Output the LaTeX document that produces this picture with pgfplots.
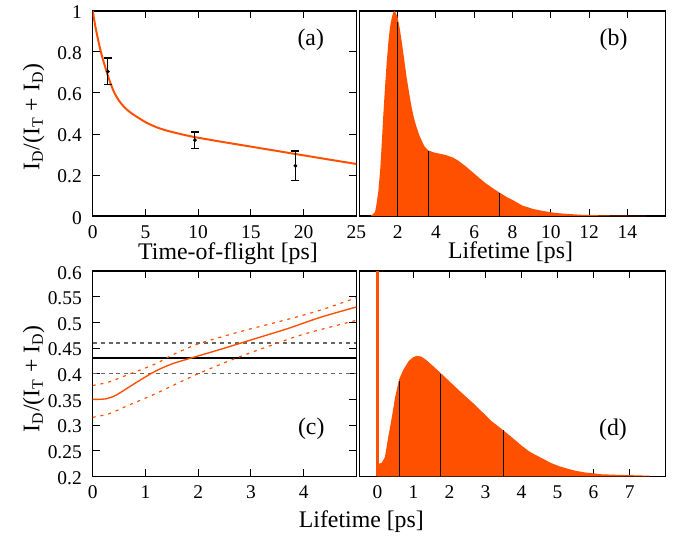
\documentclass[border=0pt]{standalone}
\usepackage{fontspec}
\setmainfont{Liberation Serif}
\usepackage{pgfplots}
\pgfplotsset{compat=1.18}
\definecolor{myor}{RGB}{255,80,0}
\begin{document}
\fontsize{12}{14.4}\selectfont
\pgfplotsset{
  base/.style={
    scale only axis,
    axis line style={line width=0.8pt},
    every tick/.style={black, line width=0.5pt},
    tick align=inside,
    major tick length=3.5pt,
    minor tick length=0pt,
    /pgf/number format/assume math mode=true,
    ticklabel style={font=\fontsize{9.8}{11.8}\selectfont, inner sep=0pt},
    xticklabel style={yshift=-4.5pt},
    yticklabel style={xshift=-5.3pt, yshift=-0.8pt},
    clip=true,
  },
}
\begin{tikzpicture}
% ---------- (a)
\begin{axis}[base,
  at={(43.75pt,163pt)}, anchor=south west,
  width=133pt, height=103.5pt,
  xmin=0, xmax=25, ymin=0, ymax=1,
  xtick={0,5,10,15,20,25}, ytick={0,0.2,0.4,0.6,0.8,1},
]
\addplot[myor, line width=1pt, smooth] coordinates {
(0,1.0) (0.25,0.925) (0.5,0.862) (0.75,0.806) (1.0,0.758) (1.5,0.675) (2.0,0.607)
(2.5,0.562) (3.0,0.531) (3.5,0.508) (4.0,0.49) (5.0,0.458) (6.0,0.434)
(7.0,0.417) (8.0,0.404) (9.0,0.392) (10,0.382) (12,0.364) (14,0.347)
(16,0.330) (18,0.313) (20,0.296) (22,0.279) (25,0.254)};
\addplot[black, only marks, mark=*, mark size=0.6pt, line width=0.6pt,
  error bars/.cd, y dir=both, y explicit,
  error bar style={line width=0.6pt}, error mark options={rotate=90, mark size=2pt, line width=0.6pt}]
  coordinates {
  (1.44,0.705) +- (0,0.065)
  (9.69,0.37) +- (0,0.04)
  (19.22,0.245) +- (0,0.072)};
\node at (rel axis cs:0.827,0.86) {(a)};
\end{axis}
% ---------- (b)
\begin{axis}[base,
  at={(178.25pt,163pt)}, anchor=south west,
  width=154.5pt, height=103.5pt,
  xmin=0, xmax=16, ymin=0, ymax=1,
  xtick={2,4,6,8,10,12,14}, ytick=\empty,
]
\addplot[fill=myor, draw=none] coordinates {
(0.56,0) (0.7,0.008) (0.82,0.02) (0.9,0.06) (1.0,0.127) (1.1,0.24) (1.17,0.353)
(1.25,0.49) (1.34,0.627) (1.43,0.75) (1.52,0.852) (1.6,0.92) (1.69,0.965)
(1.76,0.99) (1.83,1.0) (1.9,0.99) (1.99,0.972) (2.1,0.92) (2.21,0.852)
(2.34,0.765) (2.47,0.675) (2.6,0.6) (2.73,0.53) (2.86,0.475) (2.99,0.433)
(3.12,0.397) (3.25,0.369) (3.4,0.34) (3.6,0.32) (3.9,0.31) (4.2,0.304)
(4.5,0.298) (4.9,0.285) (5.2,0.268) (5.59,0.24) (5.9,0.215) (6.29,0.184)
(6.6,0.16) (6.98,0.135) (7.33,0.114) (7.7,0.093) (8.02,0.078) (8.5,0.052)
(9.1,0.034) (9.6,0.025) (9.96,0.019) (10.4,0.014) (10.83,0.011) (11.3,0.008)
(11.7,0.006) (12.5,0.004) (13.5,0.002) (15.0,0.001) (15.0,0)} \closedcycle;
\addplot[ycomb, black, line width=0.6pt] coordinates {(2.0,0.945) (3.6,0.315) (7.33,0.114)};
\node at (rel axis cs:0.83,0.86) {(b)};
\end{axis}
% ---------- (c)
\begin{axis}[base,
  at={(43.75pt,31.75pt)}, anchor=south west,
  width=133pt, height=103.5pt,
  xmin=0, xmax=5, ymin=0.2, ymax=0.6,
  xtick={0,1,2,3,4}, extra x ticks={5}, extra x tick labels={},
  ytick={0.2,0.25,0.3,0.35,0.4,0.45,0.5,0.55,0.6},
  yticklabels={0.2,0.25,0.3,0.35,0.4,0.45,0.5,0.55,0.6},
]
\addplot[gray!80!black, line width=0.6pt, dash pattern=on 2pt off 2pt] coordinates {(0,0.46) (5,0.46)};
\addplot[gray!80!black, line width=0.6pt, dash pattern=on 2pt off 2pt] coordinates {(0,0.40) (5,0.40)};
\addplot[black, line width=1.1pt] coordinates {(0,0.43) (5,0.43)};
\addplot[myor, line width=0.7pt, smooth] coordinates {
(0,0.350) (0.25,0.351) (0.44,0.358) (0.69,0.374) (0.94,0.390) (1.19,0.405)
(1.5,0.419) (1.88,0.431) (2.44,0.448) (3.07,0.468) (3.70,0.488) (4.32,0.51) (5.0,0.530)};
\addplot[myor, line width=0.6pt, dash pattern=on 1.5pt off 2.5pt, smooth] coordinates {
(0,0.377) (0.31,0.384) (0.69,0.399) (1.19,0.419) (1.5,0.436) (2.0,0.458)
(2.76,0.481) (3.70,0.506) (4.32,0.524) (5.0,0.548)};
\addplot[myor, line width=0.6pt, dash pattern=on 1.5pt off 2.5pt, smooth] coordinates {
(0,0.315) (0.31,0.322) (0.69,0.339) (1.19,0.361) (2.0,0.40) (2.76,0.432)
(3.38,0.455) (4.0,0.477) (5.0,0.504)};
\node at (rel axis cs:0.829,0.234) {(c)};
\end{axis}
% ---------- (d)
\begin{axis}[base,
  at={(178.25pt,31.75pt)}, anchor=south west,
  width=154.5pt, height=103.5pt,
  xmin=-0.5, xmax=8, ymin=0, ymax=1,
  xtick={0,1,2,3,4,5,6,7}, ytick=\empty,
]
\addplot[fill=myor, draw=none] coordinates {
(0,0) (0,0.06) (0.03,0.061) (0.12,0.065) (0.21,0.094) (0.30,0.19) (0.40,0.286)
(0.49,0.383) (0.60,0.471) (0.72,0.519) (0.86,0.559) (0.97,0.578) (1.09,0.587)
(1.22,0.583) (1.34,0.569) (1.46,0.551) (1.76,0.503) (2.0,0.463) (2.24,0.423)
(2.47,0.386) (2.70,0.35) (2.93,0.31) (3.16,0.27) (3.49,0.225) (3.8,0.18)
(4.0,0.15) (4.2,0.123) (4.4,0.103) (4.6,0.085) (4.83,0.064) (5.05,0.049)
(5.3,0.036) (5.5,0.027) (5.75,0.019) (6.22,0.01) (6.7,0.007) (7.14,0.005)
(7.55,0.003) (7.55,0)} \closedcycle;
\addplot[ycomb, myor, line width=1.2pt] coordinates {(0,1.5)};
\addplot[ycomb, black, line width=0.6pt] coordinates {(0.62,0.466) (1.75,0.50) (3.49,0.225)};
\node at (rel axis cs:0.828,0.225) {(d)};
\end{axis}
% ---------- axis labels
\node[anchor=base, inner sep=0pt] at (112pt,141.2pt) {Time-of-flight [ps]};
\node[anchor=base, inner sep=0pt] at (254.5pt,141.6pt) {Lifetime [ps]};
\node[anchor=base, inner sep=0pt] at (179.25pt,6.15pt) {Lifetime [ps]};
\node[anchor=base, inner sep=0pt, rotate=90] at (16.8pt,213pt) {I\textsubscript{D}/(I\textsubscript{T} + I\textsubscript{D})};
\node[anchor=base, inner sep=0pt, rotate=90] at (16.8pt,81pt) {I\textsubscript{D}/(I\textsubscript{T} + I\textsubscript{D})};
\pgfresetboundingbox
\path[use as bounding box] (0,0) rectangle (341.5pt,272pt);
\end{tikzpicture}
\end{document}
